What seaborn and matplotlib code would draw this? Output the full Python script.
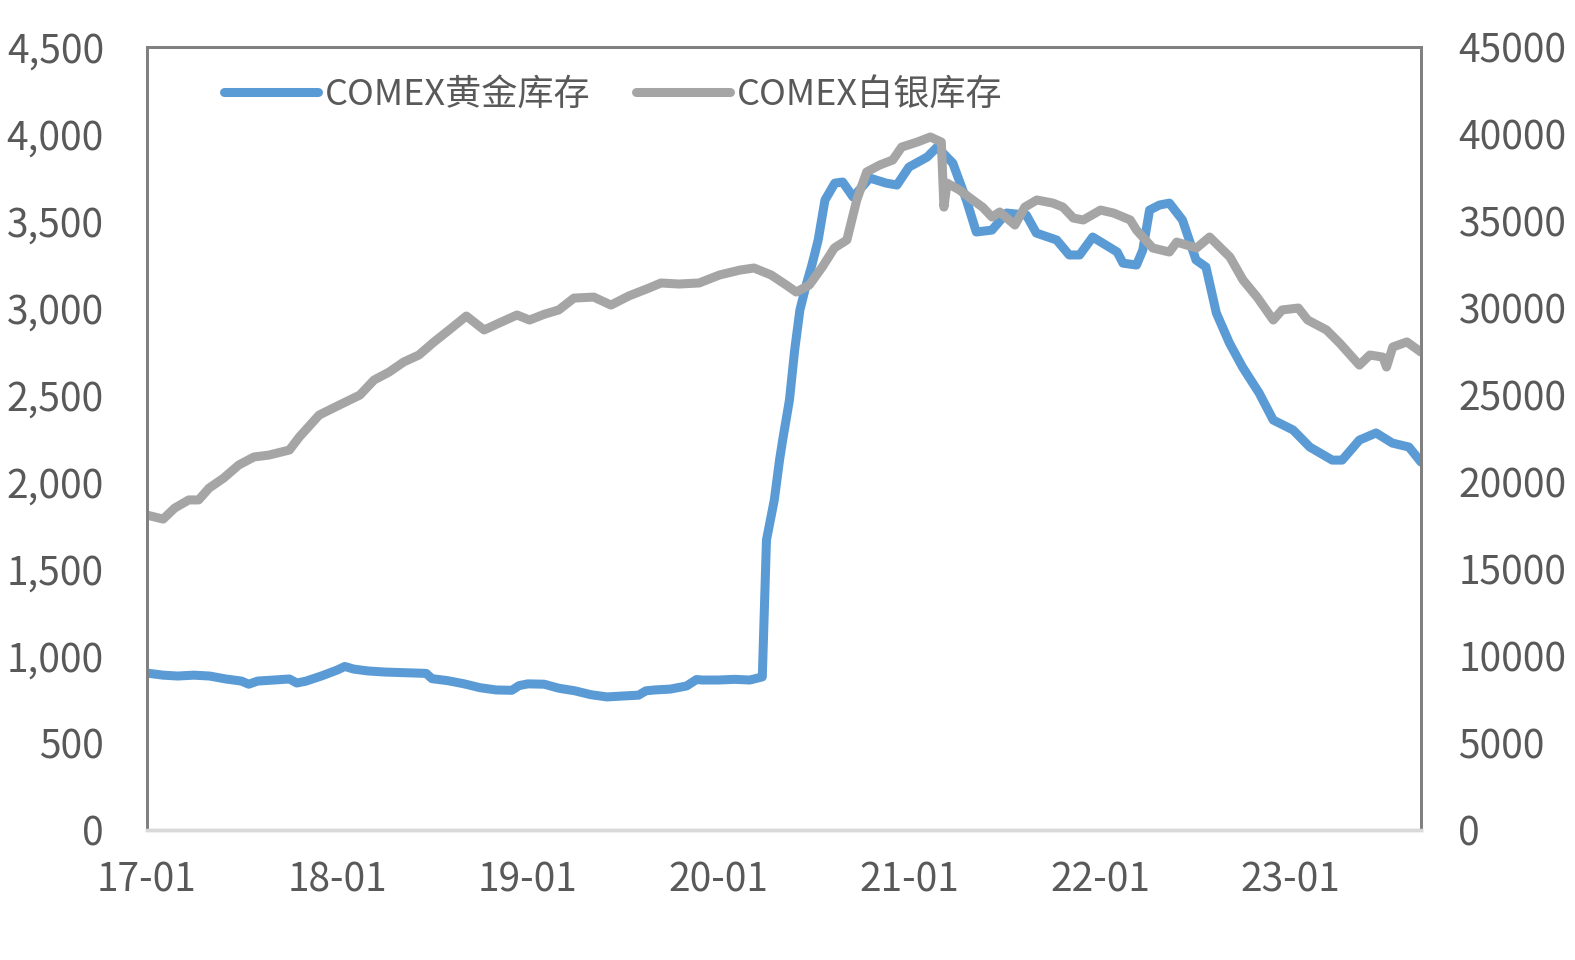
import pandas as pd
import numpy as np
import matplotlib
matplotlib.use("Agg")
import matplotlib.pyplot as plt
import matplotlib.dates as mdates
from matplotlib.ticker import FuncFormatter, MultipleLocator
import seaborn as sns


gold_dates = [
    "2017-01-01", "2017-02-01", "2017-03-01", "2017-04-01", "2017-05-01", "2017-06-01",
    "2017-07-01", "2017-07-15", "2017-08-01", "2017-09-01", "2017-10-01", "2017-10-15",
    "2017-11-01", "2017-12-01", "2018-01-01", "2018-01-15", "2018-02-01", "2018-03-01",
    "2018-04-01", "2018-05-01", "2018-06-01", "2018-06-20", "2018-07-01", "2018-08-01",
    "2018-09-01", "2018-10-01", "2018-11-01", "2018-12-01", "2018-12-15", "2019-01-01",
    "2019-02-01", "2019-03-01", "2019-04-01", "2019-05-01", "2019-06-01", "2019-07-01",
    "2019-08-01", "2019-08-15", "2019-09-01", "2019-10-01", "2019-11-01", "2019-11-20",
    "2019-12-01", "2020-01-01", "2020-02-01", "2020-03-01", "2020-03-25", "2020-04-02",
    "2020-04-17", "2020-04-27", "2020-05-03", "2020-05-16", "2020-05-26", "2020-06-05",
    "2020-06-17", "2020-06-28", "2020-07-10", "2020-07-23", "2020-08-11", "2020-08-26",
    "2020-09-15", "2020-10-17", "2020-11-17", "2020-12-08", "2020-12-31", "2021-02-04",
    "2021-02-23", "2021-03-25", "2021-04-20", "2021-05-09", "2021-06-08", "2021-07-06",
    "2021-08-13", "2021-09-01", "2021-10-10", "2021-11-03", "2021-11-23", "2021-12-18",
    "2022-02-03", "2022-02-14", "2022-03-12", "2022-03-24", "2022-04-06", "2022-04-25",
    "2022-05-14", "2022-06-08", "2022-07-04", "2022-07-23", "2022-08-12", "2022-09-06",
    "2022-10-01", "2022-11-02", "2022-11-29", "2023-01-06", "2023-02-07", "2023-03-22",
    "2023-04-10", "2023-05-13", "2023-06-14", "2023-07-15", "2023-08-16", "2023-09-08",
]
gold_values = [
    902, 890, 885, 890, 885, 868,
    856, 838, 856, 862, 868, 845,
    855, 885, 920, 940, 925, 914,
    908, 905, 902, 900, 870, 858,
    840, 818, 805, 803, 830, 840,
    838, 815, 800, 778, 765, 770,
    775, 800, 805, 810, 828, 865,
    862, 862, 866, 862, 880, 1667,
    1897, 2126, 2241, 2471, 2758, 2988,
    3132, 3247, 3390, 3620, 3718, 3724,
    3638, 3747, 3718, 3707, 3810, 3868,
    3925, 3833, 3621, 3437, 3448, 3546,
    3534, 3431, 3391, 3305, 3305, 3408,
    3322, 3258, 3247, 3333, 3563, 3592,
    3603, 3506, 3276, 3236, 2971, 2799,
    2661, 2511, 2356, 2299, 2201, 2126,
    2126, 2241, 2282, 2224, 2201, 2115,
]

silver_dates = [
    "2017-01-01", "2017-02-01", "2017-02-23", "2017-03-22", "2017-04-10", "2017-04-30",
    "2017-05-28", "2017-06-26", "2017-07-25", "2017-08-23", "2017-10-01", "2017-10-20",
    "2017-11-27", "2018-01-05", "2018-02-13", "2018-03-12", "2018-04-10", "2018-05-08",
    "2018-06-06", "2018-07-05", "2018-08-03", "2018-09-05", "2018-10-09", "2018-11-07",
    "2018-12-11", "2019-01-04", "2019-02-02", "2019-03-01", "2019-03-30", "2019-05-07",
    "2019-06-09", "2019-07-13", "2019-08-21", "2019-09-13", "2019-10-17", "2019-11-25",
    "2020-01-03", "2020-02-11", "2020-03-09", "2020-04-11", "2020-05-10", "2020-05-29",
    "2020-06-23", "2020-07-18", "2020-08-10", "2020-09-03", "2020-09-22", "2020-10-11",
    "2020-11-05", "2020-11-30", "2020-12-17", "2021-01-16", "2021-02-10", "2021-03-03",
    "2021-03-08", "2021-03-14", "2021-04-07", "2021-05-02", "2021-05-21", "2021-06-08",
    "2021-06-23", "2021-07-22", "2021-08-10", "2021-09-02", "2021-10-03", "2021-10-22",
    "2021-11-11", "2021-11-30", "2022-01-02", "2022-01-27", "2022-02-28", "2022-03-12",
    "2022-04-12", "2022-05-14", "2022-05-28", "2022-07-05", "2022-07-30", "2022-09-07",
    "2022-10-02", "2022-10-29", "2022-11-29", "2022-12-16", "2023-01-16", "2023-02-03",
    "2023-03-11", "2023-04-05", "2023-05-13", "2023-06-02", "2023-06-27", "2023-07-04",
    "2023-07-16", "2023-08-12", "2023-09-08",
]
silver_values = [
    18100, 17870, 18500, 18970, 18970, 19650,
    20230, 20980, 21440, 21550, 21840, 22590,
    23850, 24430, 25000, 25860, 26320, 26900,
    27300, 28050, 28740, 29540, 28740, 29140,
    29600, 29310, 29650, 29890, 30570, 30630,
    30170, 30690, 31150, 31440, 31380, 31440,
    31900, 32180, 32300, 31900, 31320, 30920,
    31320, 32360, 33450, 33910, 36210, 37820,
    38220, 38510, 39250, 39540, 39830, 39540,
    35800, 37180, 36780, 36210, 35800, 35230,
    35520, 34770, 35800, 36210, 36030, 35800,
    35170, 35060, 35630, 35460, 35060, 34480,
    33450, 33220, 33790, 33450, 34080, 32930,
    31610, 30630, 29310, 29890, 30000, 29310,
    28740, 27990, 26720, 27300, 27180, 26610,
    27760, 28050, 27470,
]

gold_label = "COMEX黄金库存"
silver_label = "COMEX白银库存"

gold_df = pd.DataFrame({"date": pd.to_datetime(gold_dates), "value": gold_values})
silver_df = pd.DataFrame({"date": pd.to_datetime(silver_dates), "value": silver_values})

sns.set_style("white")
plt.rcParams["font.family"] = ["Noto Sans CJK SC", "DejaVu Sans"]

text_color = "#595959"
blue = "#5B9BD5"
grey = "#A5A5A5"

fig = plt.figure(figsize=(15.75, 9.6), dpi=100)
ax = fig.add_axes([0.0933, 0.1354, 0.8089, 0.8156])
ax2 = ax.twinx()

sns.lineplot(data=gold_df, x="date", y="value", ax=ax, color=blue,
             linewidth=6.5, label=gold_label, legend=False,
             solid_capstyle="round", solid_joinstyle="round")
sns.lineplot(data=silver_df, x="date", y="value", ax=ax2, color=grey,
             linewidth=6.5, label=silver_label, legend=False,
             solid_capstyle="round", solid_joinstyle="round")

ax.set_xlim(pd.Timestamp("2017-01-01"), pd.Timestamp("2023-09-08"))
ax.set_ylim(0, 4500)
ax2.set_ylim(0, 45000)
ax.yaxis.set_major_locator(MultipleLocator(500))
ax2.yaxis.set_major_locator(MultipleLocator(5000))
ax.yaxis.set_major_formatter(FuncFormatter(lambda v, p: f"{int(v):,}"))
ax2.yaxis.set_major_formatter(FuncFormatter(lambda v, p: f"{int(v)}"))
ax.xaxis.set_major_locator(mdates.YearLocator())
ax.xaxis.set_major_formatter(mdates.DateFormatter("%y-%m"))

ax.set_xlabel("")
ax.set_ylabel("")
ax2.set_ylabel("")

ax.tick_params(axis="y", length=0, pad=31, labelsize=28, labelcolor=text_color)
ax.tick_params(axis="x", length=0, pad=22, labelsize=28, labelcolor=text_color)
ax2.tick_params(axis="y", length=0, pad=27, labelsize=28, labelcolor=text_color)
for lbl in ax.get_xticklabels() + ax.get_yticklabels() + ax2.get_yticklabels():
    lbl.set_fontweight("light")

for a in (ax, ax2):
    for side in ("left", "top", "right"):
        a.spines[side].set_color("#808080")
        a.spines[side].set_linewidth(2)
    a.spines["bottom"].set_color("#D9D9D9")
    a.spines["bottom"].set_linewidth(2.5)
    a.grid(False)

h1, l1 = ax.get_legend_handles_labels()
h2, l2 = ax2.get_legend_handles_labels()
leg = ax2.legend(h1 + h2, l1 + l2, loc="upper left", bbox_to_anchor=(0.035, 1.004),
                 ncol=2, frameon=False, fontsize=26, handlelength=2.6,
                 handletextpad=0.2, columnspacing=1.25, labelcolor=text_color)

fig.savefig("out.png", dpi=100)
